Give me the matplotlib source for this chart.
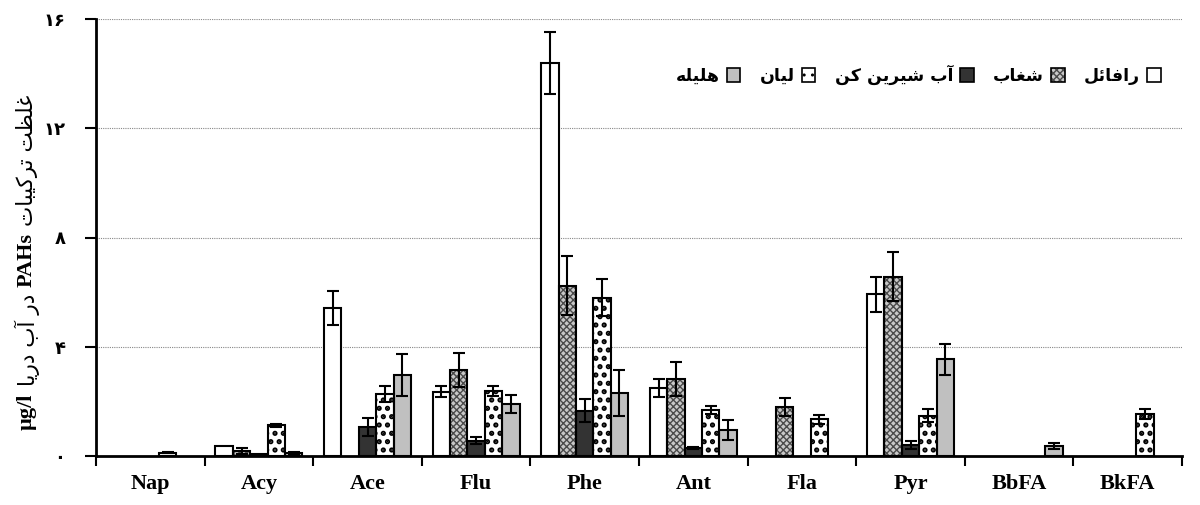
import numpy as np
import matplotlib
matplotlib.use('Agg')
import matplotlib.pyplot as plt
from matplotlib.patches import Patch
from matplotlib.font_manager import FontProperties
from matplotlib.transforms import IdentityTransform

nan = np.nan

# data (ug/l)
categories = ['Nap', 'Acy', 'Ace', 'Flu', 'Phe', 'Ant', 'Fla', 'Pyr', 'BbFA', 'BkFA']
rafael      = [nan, 0.38, 5.41, 2.36, 14.38, 2.50, nan, 5.92, nan, nan]
rafael_err  = [nan, 0.00, 0.62, 0.20, 1.13, 0.33, nan, 0.65, nan, nan]
shoghab     = [nan, 0.18, nan, 3.15, 6.24, 2.83, 1.80, 6.57, nan, nan]
shoghab_err = [nan, 0.12, nan, 0.63, 1.07, 0.62, 0.32, 0.89, nan, nan]
desal       = [nan, 0.06, 1.07, 0.56, 1.66, 0.29, nan, 0.40, nan, nan]
desal_err   = [nan, 0.00, 0.33, 0.12, 0.43, 0.05, nan, 0.15, nan, nan]
lian        = [0.12, 1.12, 2.27, 2.38, 5.80, 1.68, 1.34, 1.48, nan, 1.54]
lian_err    = [0.02, 0.04, 0.29, 0.18, 0.68, 0.16, 0.16, 0.24, nan, 0.17]
halileh     = [nan, 0.12, 2.95, 1.90, 2.30, 0.95, nan, 3.54, 0.37, nan]
halileh_err = [nan, 0.04, 0.77, 0.33, 0.85, 0.37, nan, 0.56, 0.12, nan]

series_names = ['رافائل', 'شغاب', 'آب شیرین کن', 'لیان', 'هلیله']
yticks = [0, 4, 8, 12, 16]
ytick_labels = ['۰', '۴', '۸', '۱۲', '۱۶']

# --- tiny arabic/persian shaper (matplotlib does no shaping / bidi) ---
FORMS = {
    'ا': (0xFE8D, 0xFE8E), 'آ': (0xFE81, 0xFE82), 'د': (0xFEA9, 0xFEAA),
    'ر': (0xFEAD, 0xFEAE),
    'ب': (0xFE8F, 0xFE90, 0xFE91, 0xFE92), 'ت': (0xFE95, 0xFE96, 0xFE97, 0xFE98),
    'ش': (0xFEB5, 0xFEB6, 0xFEB7, 0xFEB8), 'ظ': (0xFEC5, 0xFEC6, 0xFEC7, 0xFEC8),
    'غ': (0xFECD, 0xFECE, 0xFECF, 0xFED0), 'ف': (0xFED1, 0xFED2, 0xFED3, 0xFED4),
    'ل': (0xFEDD, 0xFEDE, 0xFEDF, 0xFEE0), 'ن': (0xFEE5, 0xFEE6, 0xFEE7, 0xFEE8),
    'ه': (0xFEE9, 0xFEEA, 0xFEEB, 0xFEEC), 'ئ': (0xFE89, 0xFE8A, 0xFE8B, 0xFE8C),
    'ی': (0xFBFC, 0xFBFD, 0xFBFE, 0xFBFF), 'ک': (0xFB8E, 0xFB8F, 0xFB90, 0xFB91),
}


def shape(s):
    out = []
    for i, c in enumerate(s):
        if c not in FORMS:
            out.append(c)
            continue
        prev = s[i - 1] if i > 0 else ''
        nxt = s[i + 1] if i + 1 < len(s) else ''
        f = FORMS[c]
        jp = prev in FORMS and len(FORMS[prev]) == 4
        jn = len(f) == 4 and nxt in FORMS
        if jp and jn:
            g = f[3]
        elif jp:
            g = f[1]
        elif jn:
            g = f[2]
        else:
            g = f[0]
        out.append(chr(g))
    return ''.join(out)[::-1]


W, H = 1200, 505
fig = plt.figure(figsize=(W / 100, H / 100), dpi=100)
ax = fig.add_axes([96 / W, 1 - 456 / H, 1086 / W, 437 / H])

values = [rafael, shoghab, desal, lian, halileh]
errors = [rafael_err, shoghab_err, desal_err, lian_err, halileh_err]
faces = ['white', '#c8c8c8', '#333333', 'white', '#c0c0c0']
hatches = [None, 'xxxxx', None, '..', None]
hatch_cols = ['white', '#4a4a4a', '#333333', 'black', '#c0c0c0']
hatch_lw = [1.0, 1.0, 1.0, 2.5, 1.0]

x = np.arange(len(categories))
bw = 0.16
handles = []
for k in range(5):
    v = np.array(values[k], dtype=float)
    e = np.array(errors[k], dtype=float)
    pos = x + (k - 2) * bw
    with plt.rc_context({'hatch.linewidth': hatch_lw[k]}):
        ax.bar(pos, v, bw, color=faces[k], edgecolor=hatch_cols[k], hatch=hatches[k],
               linewidth=0, zorder=2)
        p1 = Patch(facecolor=faces[k], edgecolor=hatch_cols[k], hatch=hatches[k], linewidth=0)
    ax.bar(pos, v, bw, fill=False, edgecolor='black', linewidth=1.5, zorder=3)
    ok = ~np.isnan(v) & (e > 0)
    ax.errorbar(pos[ok], v[ok], yerr=e[ok], fmt='none', ecolor='black',
                elinewidth=1.5, capsize=4.5, capthick=1.5, zorder=4)
    p2 = Patch(fill=False, edgecolor='black', linewidth=1.2)
    handles.append((p1, p2))

ax.set_xlim(-0.5, len(categories) - 0.5)
ax.set_ylim(0, 16)
ax.set_yticks(yticks)
ax.set_yticklabels(ytick_labels, family='DejaVu Sans', fontweight='bold', fontsize=13)
ax.set_xticks(x)
ax.set_xticklabels(categories, family='Liberation Serif', fontweight='bold', fontsize=16)
ax.tick_params(axis='x', length=0, pad=13)
ax.set_xticks(np.arange(len(categories) + 1) - 0.5, minor=True)
ax.tick_params(axis='x', which='minor', length=7, width=1.5, direction='out')
ax.tick_params(axis='y', length=8, width=1.5, direction='out', pad=14)
for s in ['top', 'right']:
    ax.spines[s].set_visible(False)
for s in ['left', 'bottom']:
    ax.spines[s].set_linewidth(2)
ax.yaxis.grid(True, color='#888888', linestyle=(0, (1, 1)), linewidth=0.8, zorder=0)
ax.set_axisbelow(True)

# RTL legend: marker to the right of each label, read right to left
order = [4, 3, 2, 1, 0]
leg = ax.legend([handles[i] for i in order], [shape(series_names[i]) for i in order],
                loc='center', bbox_to_anchor=(0.757, 0.872), ncol=5, frameon=False,
                markerfirst=False, handlelength=0.8, handleheight=0.8,
                handletextpad=0.4, columnspacing=1.1,
                prop=FontProperties(family='DejaVu Sans', weight='bold', size=12.5))

# y label assembled from pieces (mixed fonts), bottom to top
serif = FontProperties(family='Liberation Serif', weight='bold', size=16)
sans = FontProperties(family='DejaVu Sans', size=15.5)
pieces = [('µg/l', serif), (shape('در آب دریا'), sans), ('PAHs', serif),
          (shape('غلظت ترکیبات'), sans)]
gap = 7
fig.canvas.draw()
r = fig.canvas.get_renderer()
objs = []
for t, fp in pieces:
    objs.append(fig.text(0, 0, t, fontproperties=fp, rotation=90, rotation_mode='anchor',
                         ha='left', va='center', transform=IdentityTransform()))
lens = [o.get_window_extent(r).height for o in objs]
total = sum(lens) + gap * (len(lens) - 1)
y0 = (H - 262) - total / 2
for o, L in zip(objs, lens):
    o.set_position((27, y0))
    y0 += L + gap

fig.savefig('out.png', dpi=100)
